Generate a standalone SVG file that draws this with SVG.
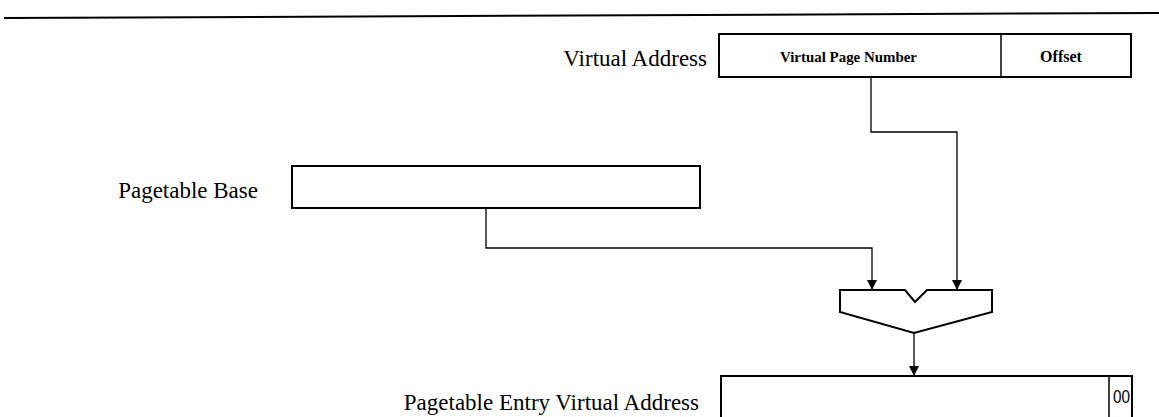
<svg xmlns="http://www.w3.org/2000/svg" width="1159" height="417" viewBox="0 0 1159 417">
<style>
.box{fill:#fff;stroke:#000;stroke-width:2}
.lbl{font-family:"Liberation Serif","Times New Roman",serif;font-size:23px;fill:#000}
.sm{font-family:"Liberation Serif","Times New Roman",serif;font-size:14px;font-weight:bold;fill:#000}
.con{fill:none;stroke:#000;stroke-width:1.3}
</style>
<defs>
<marker id="arr" viewBox="0 0 10 10" refX="10" refY="5" markerWidth="10" markerHeight="10" markerUnits="userSpaceOnUse" orient="auto">
<path d="M0,0 L10,5 L0,10 z" fill="#000"/>
</marker>
</defs>
<line x1="4" y1="18" x2="1159" y2="13" stroke="#000" stroke-width="2"/>
<g id="virtual-address">
<text class="lbl" x="707" y="66" text-anchor="end">Virtual Address</text>
<rect class="box" x="719" y="34" width="412" height="43"/>
<line x1="1001" y1="34" x2="1001" y2="77" stroke="#000" stroke-width="1.5"/>
<text class="sm" x="780" y="62" textLength="137" lengthAdjust="spacingAndGlyphs">Virtual Page Number</text>
<text class="sm" x="1061" y="62" text-anchor="middle" style="font-size:16px">Offset</text>
</g>
<g id="pagetable-base">
<text class="lbl" x="258" y="198" text-anchor="end">Pagetable Base</text>
<rect class="box" x="292" y="166" width="408" height="42"/>
</g>
<g id="adder">
<path class="box" d="M840,290 L905,290 L915,302 L927,290 L992,290 L992,312 L914,333 L840,312 Z"/>
</g>
<g id="pte-address">
<text class="lbl" x="699" y="410" text-anchor="end">Pagetable Entry Virtual Address</text>
<rect class="box" x="721" y="376" width="411" height="50"/>
<line x1="1109" y1="376" x2="1109" y2="426" stroke="#000" stroke-width="1.5"/>
<text x="1113" y="403" textLength="17" lengthAdjust="spacingAndGlyphs" style="font-family:'Liberation Sans',Arial,sans-serif;font-size:18px;fill:#000">00</text>
</g>
<g id="connectors">
<path class="con" d="M871,77 L871,132 L957,132 L957,290" marker-end="url(#arr)"/>
<path class="con" d="M486,208 L486,248 L872,248 L872,290" marker-end="url(#arr)"/>
<path class="con" d="M914,333 L914,376" marker-end="url(#arr)"/>
</g>
</svg>
